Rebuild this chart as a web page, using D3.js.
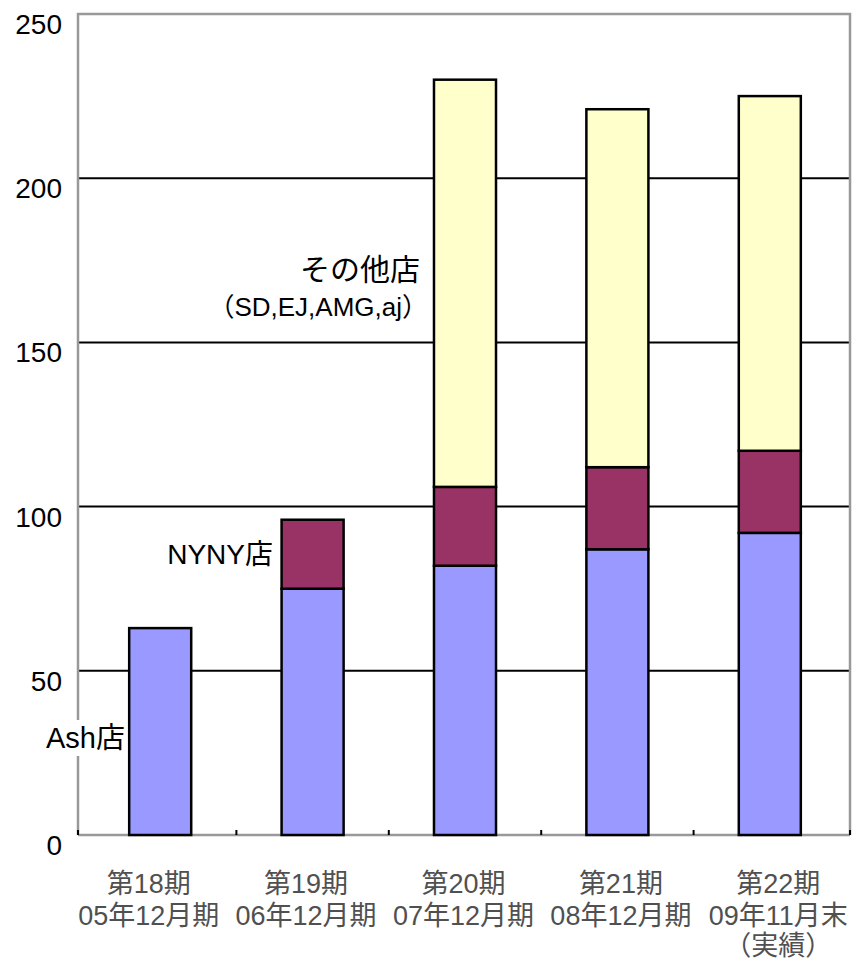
<!DOCTYPE html>
<html>
<head>
<meta charset="utf-8">
<script src="https://cdn.jsdelivr.net/npm/d3@7/dist/d3.min.js"></script>
<style>
  html, body { margin: 0; padding: 0; background: #fff; }
  svg { display: block; }
  text { font-family: "Liberation Sans", Arial, "Noto Sans CJK JP", sans-serif; }
</style>
</head>
<body>
<svg id="chart" width="854" height="962"></svg>
<script>
// Periods (two or three label lines each)
const periods = ["第18期", "第19期", "第20期", "第21期", "第22期"];
const periodDates = ["05年12月期", "06年12月期", "07年12月期", "08年12月期", "09年11月末"];
const periodNotes = ["", "", "", "", "（実績）"];

// Values per store group
const ashValues = [63, 75, 82, 87, 92];
const nynyValues = [0, 21, 24, 25, 25];
const otherValues = [0, 0, 124, 109, 108];

// Axis ticks
const yTicks = [0, 50, 100, 150, 200, 250];

const seriesKeys = ["ash", "nyny", "other"];
const seriesColors = { ash: "#9999FF", nyny: "#993366", other: "#FFFFCC" };

const rows = periods.map((p, i) => ({
  period: p,
  ash: ashValues[i],
  nyny: nynyValues[i],
  other: otherValues[i]
}));

const svg = d3.select("#chart");

const frame = { left: 78, right: 850, top: 14, bottom: 835 };

const x = d3.scaleBand()
  .domain(periods)
  .range([84, 846])
  .paddingInner(0.593)
  .paddingOuter(0.2965);

const xLabel = d3.scaleBand()
  .domain(periods)
  .range([70, 857]);

const y = d3.scaleLinear()
  .domain([0, 250])
  .range([frame.bottom, frame.top]);

// Horizontal gridlines
svg.append("g")
  .selectAll("line")
  .data(yTicks.filter(v => v > 0 && v < 250))
  .join("line")
  .attr("x1", frame.left)
  .attr("x2", frame.right)
  .attr("y1", d => y(d))
  .attr("y2", d => y(d))
  .attr("stroke", "#000")
  .attr("stroke-width", 2);

// Plot frame (grey)
svg.append("path")
  .attr("d", `M${frame.left},${frame.bottom}V${frame.top}H${frame.right}V${frame.bottom}`)
  .attr("fill", "none")
  .attr("stroke", "#999")
  .attr("stroke-width", 2.5);

svg.append("line")
  .attr("x1", frame.left)
  .attr("x2", frame.right)
  .attr("y1", frame.bottom)
  .attr("y2", frame.bottom)
  .attr("stroke", "#999")
  .attr("stroke-width", 2.5);

// Category boundary ticks on the baseline
const step = x.step();
const boundaries = [frame.left].concat(
  periods.slice(1).map(p => x(p) + x.bandwidth() / 2 - step / 2),
  [frame.right]
);
svg.append("g")
  .selectAll("line")
  .data(boundaries)
  .join("line")
  .attr("x1", d => d)
  .attr("x2", d => d)
  .attr("y1", frame.bottom)
  .attr("y2", frame.bottom - 5)
  .attr("stroke", "#000")
  .attr("stroke-width", 2);

// Stacked bars
const stacked = d3.stack().keys(seriesKeys)(rows);

svg.append("g")
  .selectAll("g")
  .data(stacked)
  .join("g")
  .attr("fill", d => seriesColors[d.key])
  .selectAll("rect")
  .data(d => d.filter(s => s[1] - s[0] > 0))
  .join("rect")
  .attr("x", d => x(d.data.period))
  .attr("width", x.bandwidth())
  .attr("y", d => y(d[1]))
  .attr("height", d => y(d[0]) - y(d[1]))
  .attr("stroke", "#000")
  .attr("stroke-width", 2.5);

// Y tick labels
svg.append("g")
  .selectAll("text")
  .data(yTicks)
  .join("text")
  .attr("x", 62)
  .attr("y", d => y(d) + 20)
  .attr("text-anchor", "end")
  .attr("font-size", 28)
  .attr("fill", "#000")
  .text(d => d);

// Category labels
const catG = svg.append("g")
  .attr("fill", "#505050")
  .attr("font-size", 27)
  .attr("text-anchor", "middle");

periods.forEach((p, i) => {
  const cx = xLabel(p) + xLabel.bandwidth() / 2;
  catG.append("text").attr("x", cx).attr("y", 893).text(p);
  catG.append("text").attr("x", cx).attr("y", 925).text(periodDates[i]);
  if (periodNotes[i]) {
    catG.append("text").attr("x", cx).attr("y", 955).text(periodNotes[i]);
  }
});

// Series labels inside the plot
const ashLabel = svg.append("g");
const ashText = ashLabel.append("text")
  .attr("x", 125)
  .attr("y", 748)
  .attr("text-anchor", "end")
  .attr("font-size", 29)
  .attr("fill", "#000")
  .text("Ash店");
const bb = ashText.node().getBBox();
ashLabel.insert("rect", "text")
  .attr("x", bb.x - 2)
  .attr("y", bb.y - 2)
  .attr("width", bb.width + 4)
  .attr("height", bb.height + 4)
  .attr("fill", "#fff");

svg.append("text")
  .attr("x", 273)
  .attr("y", 564)
  .attr("text-anchor", "end")
  .attr("font-size", 28)
  .attr("fill", "#000")
  .text("NYNY店");

svg.append("text")
  .attr("x", 420)
  .attr("y", 280)
  .attr("text-anchor", "end")
  .attr("font-size", 30)
  .attr("fill", "#000")
  .text("その他店");

svg.append("text")
  .attr("x", 428)
  .attr("y", 316)
  .attr("text-anchor", "end")
  .attr("font-size", 26)
  .attr("fill", "#000")
  .text("（SD,EJ,AMG,aj）");
</script>
</body>
</html>
